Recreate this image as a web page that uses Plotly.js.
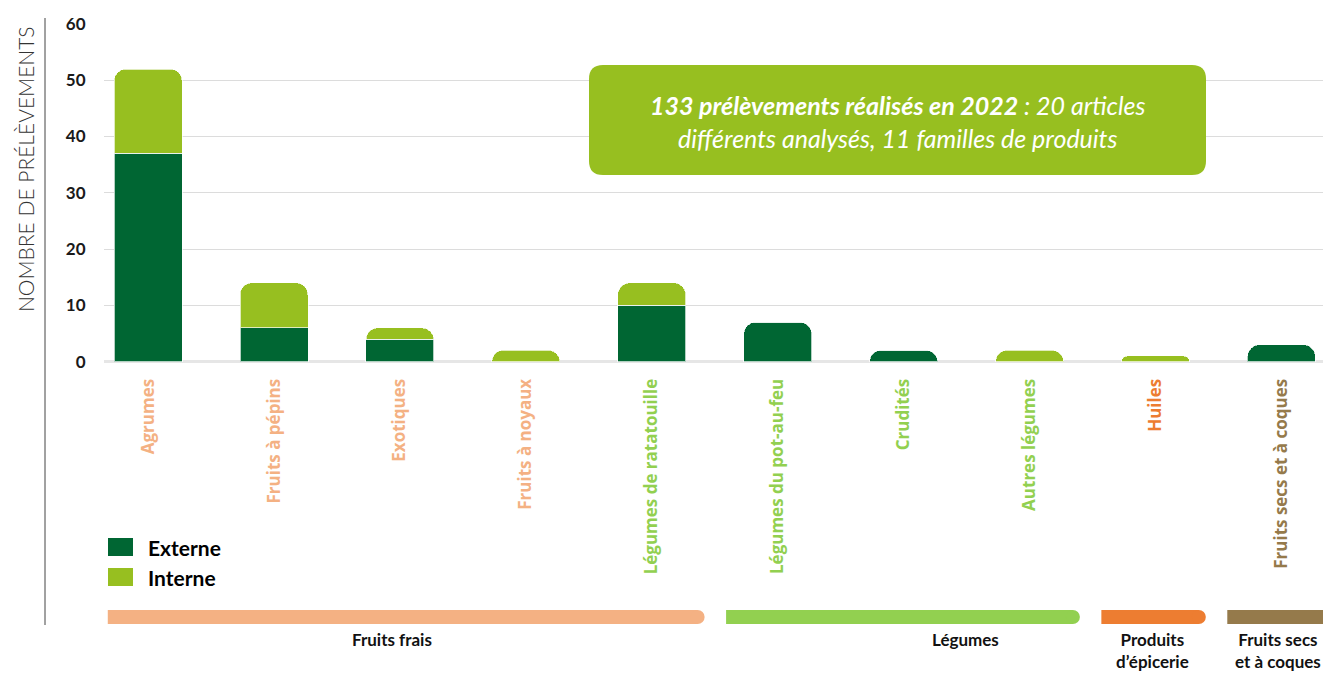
<!DOCTYPE html>
<html>
<head>
<meta charset="utf-8">
<script src="https://cdn.plot.ly/plotly-3.0.1.min.js"></script>
<style>html,body{margin:0;padding:0;background:#fff;}#chart{width:1323px;height:673px;}</style>
</head>
<body>
<div id="chart"></div>
<script>
// ---- data ----
const categories = ["Agrumes","Fruits à pépins","Exotiques","Fruits à noyaux","Légumes de ratatouille","Légumes du pot-au-feu","Crudités","Autres légumes","Huiles","Fruits secs et à coques"];
const externe = [37, 6, 4, 0, 10, 7, 2, 0, 0, 3];
const interne = [15, 8, 2, 2, 4, 0, 0, 2, 1, 0];
const seriesNames = ["Externe", "Interne"];
const categoryGroup = ["Fruits frais","Fruits frais","Fruits frais","Fruits frais","Légumes","Légumes","Légumes","Légumes","Produits d'épicerie","Fruits secs et à coques"];
const groupNames = ["Fruits frais","Légumes","Produits d'épicerie","Fruits secs et à coques"];
const groupLabels = ["Fruits frais","Légumes","Produits<br>d’épicerie","Fruits secs<br>et à coques"];
const yTicks = [0, 10, 20, 30, 40, 50, 60];
const yTitle = "NOMBRE DE PRÉLÈVEMENTS";
const noteText = "<b>133 prélèvements réalisés en 2022</b> : 20 articles<br>différents analysés, 11 familles de produits";

// ---- styling ----
const seriesColors = ["#006633", "#97bf20"];
const groupColors = {"Fruits frais":"#f4b183","Légumes":"#92d050","Produits d'épicerie":"#ed7d31","Fruits secs et à coques":"#957a4b"};
// decorative group bars (category-axis positions)
const groupSpan = {"Fruits frais":[-0.32,4.42],"Légumes":[4.59,7.40],"Produits d'épicerie":[7.57,8.40],"Fruits secs et à coques":[8.57,9.6]};
const groupLabelX = {"Fruits frais":1.94,"Légumes":6.49,"Produits d'épicerie":7.98,"Fruits secs et à coques":8.97};

const W = 1323, H = 673, M = {l:104, r:0, t:24, b:310};
const pw = W - M.l - M.r, ph = H - M.t - M.b;
const px = x => (x - M.l) / pw;
const py = y => (H - M.b - y) / ph;

const xIdx = categories.map((c, i) => i);
const tickText = categories.map((c, i) => `<span style="color:${groupColors[categoryGroup[i]]}"><b>${c}</b></span>`);

const traces = [
  {type:'bar', name:seriesNames[0], x:xIdx, y:externe, marker:{color:seriesColors[0], line:{color:'rgba(255,255,255,0.7)', width:1}}, showlegend:false, hoverinfo:'x+y+name'},
  {type:'bar', name:seriesNames[1], x:xIdx, y:interne, marker:{color:seriesColors[1], line:{color:'rgba(255,255,255,0.7)', width:1}}, showlegend:false, hoverinfo:'x+y+name'}
];

const shapes = [];
const annotations = [];

// vertical rule left of the axis
shapes.push({type:'line', xref:'paper', yref:'paper', x0:px(45), x1:px(45), y0:py(18), y1:py(625), line:{color:'#444', width:1}});

// group bars
groupNames.forEach((g, gi) => {
  const [a, b] = groupSpan[g];
  const yc = py(617);
  shapes.push({type:'rect', xref:'x', yref:'paper', x0:a, x1:b - 0.056, y0:py(624), y1:py(610), fillcolor:groupColors[g], line:{width:0}, layer:'above'});
  shapes.push({type:'circle', xref:'x', yref:'paper', xsizemode:'pixel', ysizemode:'pixel', xanchor:b - 0.056, yanchor:yc, x0:-7, x1:7, y0:-7, y1:7, fillcolor:groupColors[g], line:{width:0}, layer:'above'});
  annotations.push({xref:'x', yref:'paper', x:groupLabelX[g], y:py(627), yanchor:'top', text:'<b>'+groupLabels[gi]+'</b>', showarrow:false, font:{family:'Lato', size:17, color:'#111'}, align:'center'});
});

// legend (custom)
seriesNames.forEach((n, i) => {
  const yc = 547 + i * 30;
  shapes.push({type:'rect', xref:'paper', yref:'paper', x0:px(108), x1:px(133), y0:py(yc + 9), y1:py(yc - 9), fillcolor:seriesColors[i], line:{width:0}});
  annotations.push({xref:'paper', yref:'paper', x:px(146), y:py(yc), xanchor:'left', yanchor:'middle', text:'<b>'+n+'</b>', showarrow:false, font:{family:'Lato', size:21, color:'#000'}});
});

// rounded note box
(function(){
  const w = 617, h = 110, r = 14, hw = w/2, hh = h/2;
  const path = `M ${-hw+r} ${-hh} L ${hw-r} ${-hh} Q ${hw} ${-hh} ${hw} ${-hh+r} L ${hw} ${hh-r} Q ${hw} ${hh} ${hw-r} ${hh} L ${-hw+r} ${hh} Q ${-hw} ${hh} ${-hw} ${hh-r} L ${-hw} ${-hh+r} Q ${-hw} ${-hh} ${-hw+r} ${-hh} Z`;
  shapes.push({type:'path', xref:'paper', yref:'paper', xsizemode:'pixel', ysizemode:'pixel', xanchor:px(897.5), yanchor:py(120), path:path, fillcolor:'#97bf20', line:{width:0}, layer:'above'});
  annotations.push({xref:'paper', yref:'paper', x:px(897.5), y:py(121), xanchor:'center', yanchor:'middle', text:'<i>'+noteText+'</i>', showarrow:false, font:{family:'Lato', size:25, color:'#fff'}, align:'center'});
})();

// y title
annotations.push({xref:'paper', yref:'paper', x:px(25), y:py(169), textangle:-90, text:yTitle, showarrow:false, font:{family:'Lato', size:21, color:'#333', weight:300}, xanchor:'center', yanchor:'middle'});

const layout = {
  width: W, height: H,
  margin: M,
  paper_bgcolor:'#fff', plot_bgcolor:'#fff',
  barmode:'stack', bargap:0.46, barcornerradius:12,
  showlegend:false,
  font:{family:'Lato', color:'#222'},
  xaxis:{type:'linear', range:[-0.35, 9.33], tickvals:xIdx, ticktext:tickText, tickangle:-90, showgrid:false, zeroline:false, showline:false, ticks:'outside', ticklen:8, tickcolor:'rgba(0,0,0,0)', tickfont:{family:'Open Sans', size:17}, fixedrange:true},
  yaxis:{range:[-0.25, 60], tickvals:yTicks, ticktext:yTicks.map(String), showgrid:true, gridcolor:'#dcdcdc', gridwidth:1, zeroline:true, zerolinecolor:'#e6e6e6', zerolinewidth:3, showline:false, ticks:'outside', ticklen:14, tickcolor:'rgba(0,0,0,0)', tickfont:{family:'Lato', size:17, color:'#1a1a1a', weight:'bold'}, fixedrange:true},
  shapes: shapes,
  annotations: annotations
};

Plotly.newPlot('chart', traces, layout, {displayModeBar:false, staticPlot:true});
</script>
</body>
</html>
